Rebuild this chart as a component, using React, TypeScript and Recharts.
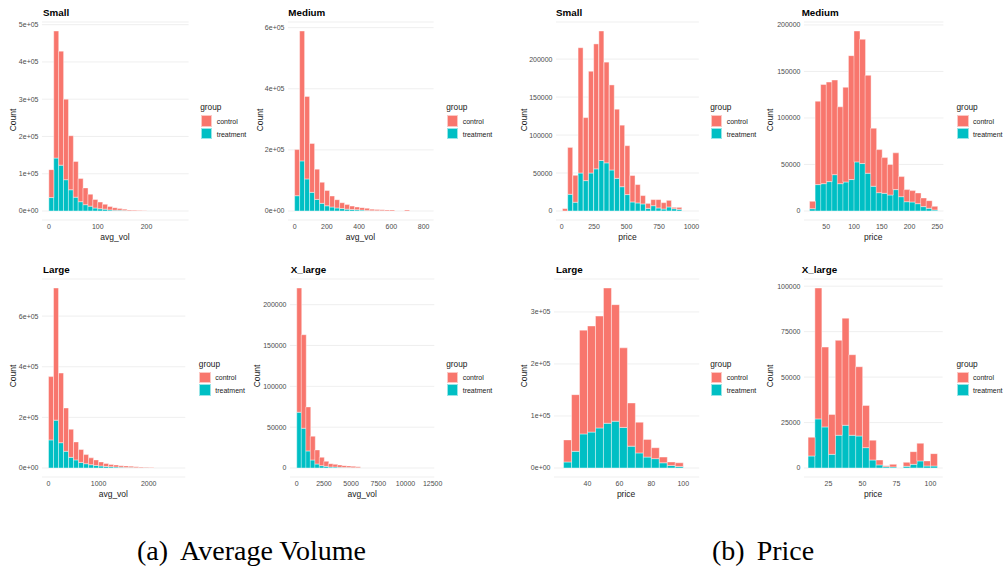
import React from 'react'
import { Bar, BarChart, CartesianGrid, XAxis, YAxis } from 'recharts'

// bin centres and stacked counts
const smallVolBins = [5, 15, 25, 35, 45, 55, 65, 75, 85, 95, 105, 115, 125, 135, 145, 155, 165, 175, 185, 195]
const smallVolTreatment = [36000, 142000, 123000, 84000, 57000, 37000, 25000, 17000, 13000, 8000, 6000, 5000, 3000, 2000, 2000, 1000, 500, 300, 100, 50]
const smallVolControl = [75000, 341000, 306000, 216000, 145000, 96000, 62000, 45000, 32000, 23000, 18000, 13000, 9000, 7000, 5000, 4000, 2500, 1700, 900, 450]

const mediumVolBins = [15.5, 46.5, 77.5, 108.5, 139.5, 170.5, 201.5, 232.5, 263.5, 294.5, 325.5, 356.5, 387.5, 418.5, 449.5, 480.5, 511.5, 542.5, 573.5, 604.5, 635.5, 666.5, 697.5]
const mediumVolTreatment = [50000, 164000, 105000, 61000, 38000, 25000, 17000, 13000, 10000, 8000, 6000, 5000, 4000, 3000, 2000, 1000, 1000, 500, 300, 200, 0, 0, 0]
const mediumVolControl = [151000, 425000, 270000, 160000, 99000, 69000, 50000, 36000, 27000, 19000, 15000, 11000, 9000, 8000, 7000, 5000, 4000, 3500, 2700, 2800, 0, 0, 3000]

const largeVolBins = [50, 150, 250, 350, 450, 550, 650, 750, 850, 950, 1050, 1150, 1250, 1350, 1450, 1550, 1650, 1750, 1850, 1950, 2050]
const largeVolTreatment = [111000, 189000, 100000, 66000, 42000, 32000, 22000, 17000, 13000, 10000, 8000, 6000, 5000, 4000, 3000, 2000, 1500, 1000, 1000, 500, 300]
const largeVolControl = [250000, 522000, 275000, 171000, 111000, 71000, 51000, 36000, 27000, 22000, 16000, 12000, 9000, 8000, 6000, 6000, 5500, 4000, 3000, 2500, 1700]

const xlargeVolBins = [207.5, 622.5, 1037.5, 1452.5, 1867.5, 2282.5, 2697.5, 3112.5, 3527.5, 3942.5, 4357.5, 4772.5, 5187.5, 5602.5]
const xlargeVolTreatment = [68300, 48700, 20900, 9800, 4900, 2900, 2000, 1200, 1200, 800, 600, 500, 400, 300]
const xlargeVolControl = [152100, 114500, 53900, 29100, 17200, 10200, 6200, 4100, 3300, 2900, 2300, 2000, 1600, 1300]

const smallPriceBins = [27, 67, 107, 147, 187, 227, 267, 307, 347, 387, 427, 467, 507, 547, 587, 627, 667, 707, 747, 787, 827, 867, 907]
const smallPriceTreatment = [0, 22000, 11500, 50000, 40000, 50000, 55500, 66500, 63400, 54000, 43000, 32000, 21600, 11900, 10600, 9300, 3500, 7000, 4000, 2600, 5300, 3000, 2200]
const smallPriceControl = [3100, 61700, 35500, 165000, 83000, 134000, 164500, 170500, 132600, 112000, 91000, 81000, 64400, 34800, 24200, 11000, 6500, 8000, 11000, 8400, 8700, 1800, 2600]

const mediumPriceBins = [25, 35, 45, 55, 65, 75, 85, 95, 105, 115, 125, 135, 145, 155, 165, 175, 185, 195, 205, 215, 225, 235, 245]
const mediumPriceTreatment = [2500, 28400, 29400, 31600, 39100, 29400, 31200, 33800, 52800, 51000, 40600, 26600, 19700, 19000, 17200, 23000, 15400, 10000, 9700, 7900, 4700, 2900, 1100]
const mediumPriceControl = [7900, 89600, 106600, 107000, 101700, 82600, 101800, 133200, 140700, 133600, 105200, 62400, 46300, 38400, 32800, 39500, 21600, 13000, 12200, 11500, 9300, 8200, 3900]

const largePriceBins = [27.5, 32.5, 37.5, 42.5, 47.5, 52.5, 57.5, 62.5, 67.5, 72.5, 77.5, 82.5, 87.5, 92.5, 97.5]
const largePriceTreatment = [11600, 32000, 65500, 69000, 77000, 86000, 90000, 78000, 42000, 29000, 21000, 18000, 10000, 5000, 3000]
const largePriceControl = [42400, 109000, 199500, 204000, 215000, 260000, 224000, 153000, 83000, 59000, 34000, 21000, 11000, 6600, 7000]

const xlargePriceBins = [12.5, 17.5, 22.5, 27.5, 32.5, 37.5, 42.5, 47.5, 52.5, 57.5, 62.5, 67.5, 72.5, 77.5, 82.5, 87.5, 92.5, 97.5, 102.5]
const xlargePriceTreatment = [6600, 27000, 22600, 7500, 18000, 23500, 18000, 17600, 11200, 4400, 1700, 700, 600, 0, 900, 2000, 3900, 1100, 1100]
const xlargePriceControl = [10300, 72000, 43900, 21900, 52200, 58900, 44300, 38100, 23200, 10900, 2700, 600, 1400, 0, 2200, 7000, 9700, 2800, 6800]

const groups = ['control', 'treatment']

const RED = '#F8766D'
const TEAL = '#00BFC4'
const SANS = '"Liberation Sans", Arial, sans-serif'
const SERIF = '"Liberation Serif", serif'
const PLOT_H = 198
const YW = 40
const TP = 6
const RP = 14
const XH = 16

const sci = (v: number) => {
  const [m, e] = v.toExponential(0).split('e')
  return `${m}e${e[0]}${e.slice(1).padStart(2, '0')}`
}

type PanelProps = {
  title: string
  xLabel: string
  bins: number[]
  treatment: number[]
  control: number[]
  xDomain: [number, number]
  xTicks: number[]
  yTicks: number[]
  useSci?: boolean
  plotLeft: number
  plotRight: number
  plotTop: number
  titleX: number
  countX: number
  legendX: number
}

function Txt({ x, y, children, style, ax = 0 }: { x: number; y: number; children: React.ReactNode; style?: React.CSSProperties; ax?: number }) {
  return (
    <div
      style={{
        position: 'absolute',
        left: x,
        top: y,
        transform: `translate(${-ax * 100}%, -50%)`,
        whiteSpace: 'nowrap',
        lineHeight: 1,
        fontFamily: SANS,
        ...style,
      }}
    >
      {children}
    </div>
  )
}

function Panel(p: PanelProps) {
  const rows = p.bins.map((x, i) => ({ x, treatment: p.treatment[i], control: p.control[i] }))
  const peak = Math.max(...rows.map((r) => r.treatment + r.control))
  const plotW = p.plotRight - p.plotLeft
  const tick = { fill: '#4d4d4d', fontSize: 7, fontFamily: SANS }
  const t = p.plotTop
  return (
    <>
      <div style={{ position: 'absolute', left: p.plotLeft - YW, top: t - TP }}>
        <BarChart
          width={YW + plotW + RP}
          height={TP + PLOT_H + XH}
          data={rows}
          margin={{ top: TP, right: RP, left: 0, bottom: 0 }}
          barCategoryGap={0}
          barGap={0}
        >
          <CartesianGrid vertical={false} stroke="#ebebeb" strokeWidth={0.8} />
          <XAxis
            dataKey="x"
            type="number"
            domain={p.xDomain}
            ticks={p.xTicks}
            allowDataOverflow
            interval={0}
            height={XH}
            axisLine={false}
            tickLine={false}
            tickSize={0}
            tickMargin={4.5}
            tick={tick}
          />
          <YAxis
            type="number"
            domain={[-0.05 * peak, 1.05 * peak]}
            ticks={p.yTicks}
            allowDataOverflow
            interval={0}
            width={YW}
            axisLine={false}
            tickLine={false}
            tickSize={0}
            tickMargin={3.5}
            tick={tick}
            tickFormatter={(v: number) => (p.useSci ? sci(v) : String(v))}
          />
          <Bar dataKey="treatment" stackId="g" fill={TEAL} stroke="#ffffff" strokeOpacity={0.6} strokeWidth={0.7} isAnimationActive={false} />
          <Bar dataKey="control" stackId="g" fill={RED} stroke="#ffffff" strokeOpacity={0.6} strokeWidth={0.7} isAnimationActive={false} />
        </BarChart>
      </div>
      <Txt x={p.titleX} y={t - 9} style={{ fontSize: 9.8, fontWeight: 700, color: '#000' }}>{p.title}</Txt>
      <Txt x={(p.plotLeft + p.plotRight) / 2} y={t + 215} ax={0.5} style={{ fontSize: 8.5, color: '#1a1a1a' }}>{p.xLabel}</Txt>
      <div
        style={{
          position: 'absolute',
          left: p.countX,
          top: t + 97.5,
          transform: 'translate(-50%, -50%) rotate(-90deg)',
          fontFamily: SANS,
          fontSize: 8.5,
          lineHeight: 1,
          color: '#1a1a1a',
          whiteSpace: 'nowrap',
        }}
      >
        Count
      </div>
      <Txt x={p.legendX - 0.5} y={t + 85} style={{ fontSize: 8.3, color: '#1a1a1a' }}>group</Txt>
      {groups.map((g, i) => (
        <React.Fragment key={g}>
          <div
            style={{
              position: 'absolute',
              left: p.legendX,
              top: t + 93 + i * 12.5,
              width: 11.5,
              height: 11.5,
              background: g === 'control' ? RED : TEAL,
              boxSizing: 'border-box',
              border: '0.5px solid rgba(255,255,255,0.6)',
            }}
          />
          <Txt x={p.legendX + 16} y={t + 98.8 + i * 12.7} style={{ fontSize: 7, color: '#1a1a1a' }}>{g}</Txt>
        </React.Fragment>
      ))}
    </>
  )
}

const TOP = 22
const BOTTOM = 278.5

const captionStyle: React.CSSProperties = {
  position: 'absolute',
  top: 551,
  transform: 'translateY(-50%)',
  fontFamily: SERIF,
  fontSize: 28,
  lineHeight: 1,
  whiteSpace: 'nowrap',
  color: '#000',
}

export default function App() {
  return (
    <div style={{ position: 'absolute', left: 0, top: 0, width: 1003, height: 573, background: '#fff', overflow: 'hidden' }}>
      <Panel title="Small" xLabel="avg_vol" bins={smallVolBins} treatment={smallVolTreatment} control={smallVolControl}
        xDomain={[-14, 286]} xTicks={[0, 100, 200]} yTicks={[0, 100000, 200000, 300000, 400000, 500000]} useSci
        plotLeft={41.7} plotRight={188.3} plotTop={TOP} titleX={43} countX={12.7} legendX={200.7} />
      <Panel title="Medium" xLabel="avg_vol" bins={mediumVolBins} treatment={mediumVolTreatment} control={mediumVolControl}
        xDomain={[-41, 862]} xTicks={[0, 200, 400, 600, 800]} yTicks={[0, 200000, 400000, 600000]} useSci
        plotLeft={287.7} plotRight={433.3} plotTop={TOP} titleX={288.3} countX={260} legendX={446.7} />
      <Panel title="Small" xLabel="price" bins={smallPriceBins} treatment={smallPriceTreatment} control={smallPriceControl}
        xDomain={[-43, 1057]} xTicks={[0, 250, 500, 750, 1000]} yTicks={[0, 50000, 100000, 150000, 200000]}
        plotLeft={556} plotRight={698.9} plotTop={TOP} titleX={556} countX={524} legendX={710.7} />
      <Panel title="Medium" xLabel="price" bins={mediumPriceBins} treatment={mediumPriceTreatment} control={mediumPriceControl}
        xDomain={[10, 261]} xTicks={[50, 100, 150, 200, 250]} yTicks={[0, 50000, 100000, 150000, 200000]}
        plotLeft={803.5} plotRight={942.9} plotTop={TOP} titleX={801.7} countX={770} legendX={957} />
      <Panel title="Large" xLabel="avg_vol" bins={largeVolBins} treatment={largeVolTreatment} control={largeVolControl}
        xDomain={[-130, 2730]} xTicks={[0, 1000, 2000]} yTicks={[0, 200000, 400000, 600000]} useSci
        plotLeft={41.7} plotRight={185} plotTop={BOTTOM} titleX={43} countX={13.3} legendX={199.3} />
      <Panel title="X_large" xLabel="avg_vol" bins={xlargeVolBins} treatment={xlargeVolTreatment} control={xlargeVolControl}
        xDomain={[-620, 12650]} xTicks={[0, 2500, 5000, 7500, 10000, 12500]} yTicks={[0, 50000, 100000, 150000, 200000]}
        plotLeft={290} plotRight={434.3} plotTop={BOTTOM} titleX={290.7} countX={257.3} legendX={446.7} />
      <Panel title="Large" xLabel="price" bins={largePriceBins} treatment={largePriceTreatment} control={largePriceControl}
        xDomain={[19, 110]} xTicks={[40, 60, 80, 100]} yTicks={[0, 100000, 200000, 300000]} useSci
        plotLeft={553.5} plotRight={698.7} plotTop={BOTTOM} titleX={556} countX={524} legendX={710.7} />
      <Panel title="X_large" xLabel="price" bins={xlargePriceBins} treatment={xlargePriceTreatment} control={xlargePriceControl}
        xDomain={[7, 109]} xTicks={[25, 50, 75, 100]} yTicks={[0, 25000, 50000, 75000, 100000]}
        plotLeft={803.8} plotRight={942.5} plotTop={BOTTOM} titleX={801.7} countX={770} legendX={957} />
      <div style={{ ...captionStyle, left: 137 }}>
        (a)<span style={{ marginLeft: 12 }}>Average Volume</span>
      </div>
      <div style={{ ...captionStyle, left: 712 }}>
        (b)<span style={{ marginLeft: 12 }}>Price</span>
      </div>
    </div>
  )
}
